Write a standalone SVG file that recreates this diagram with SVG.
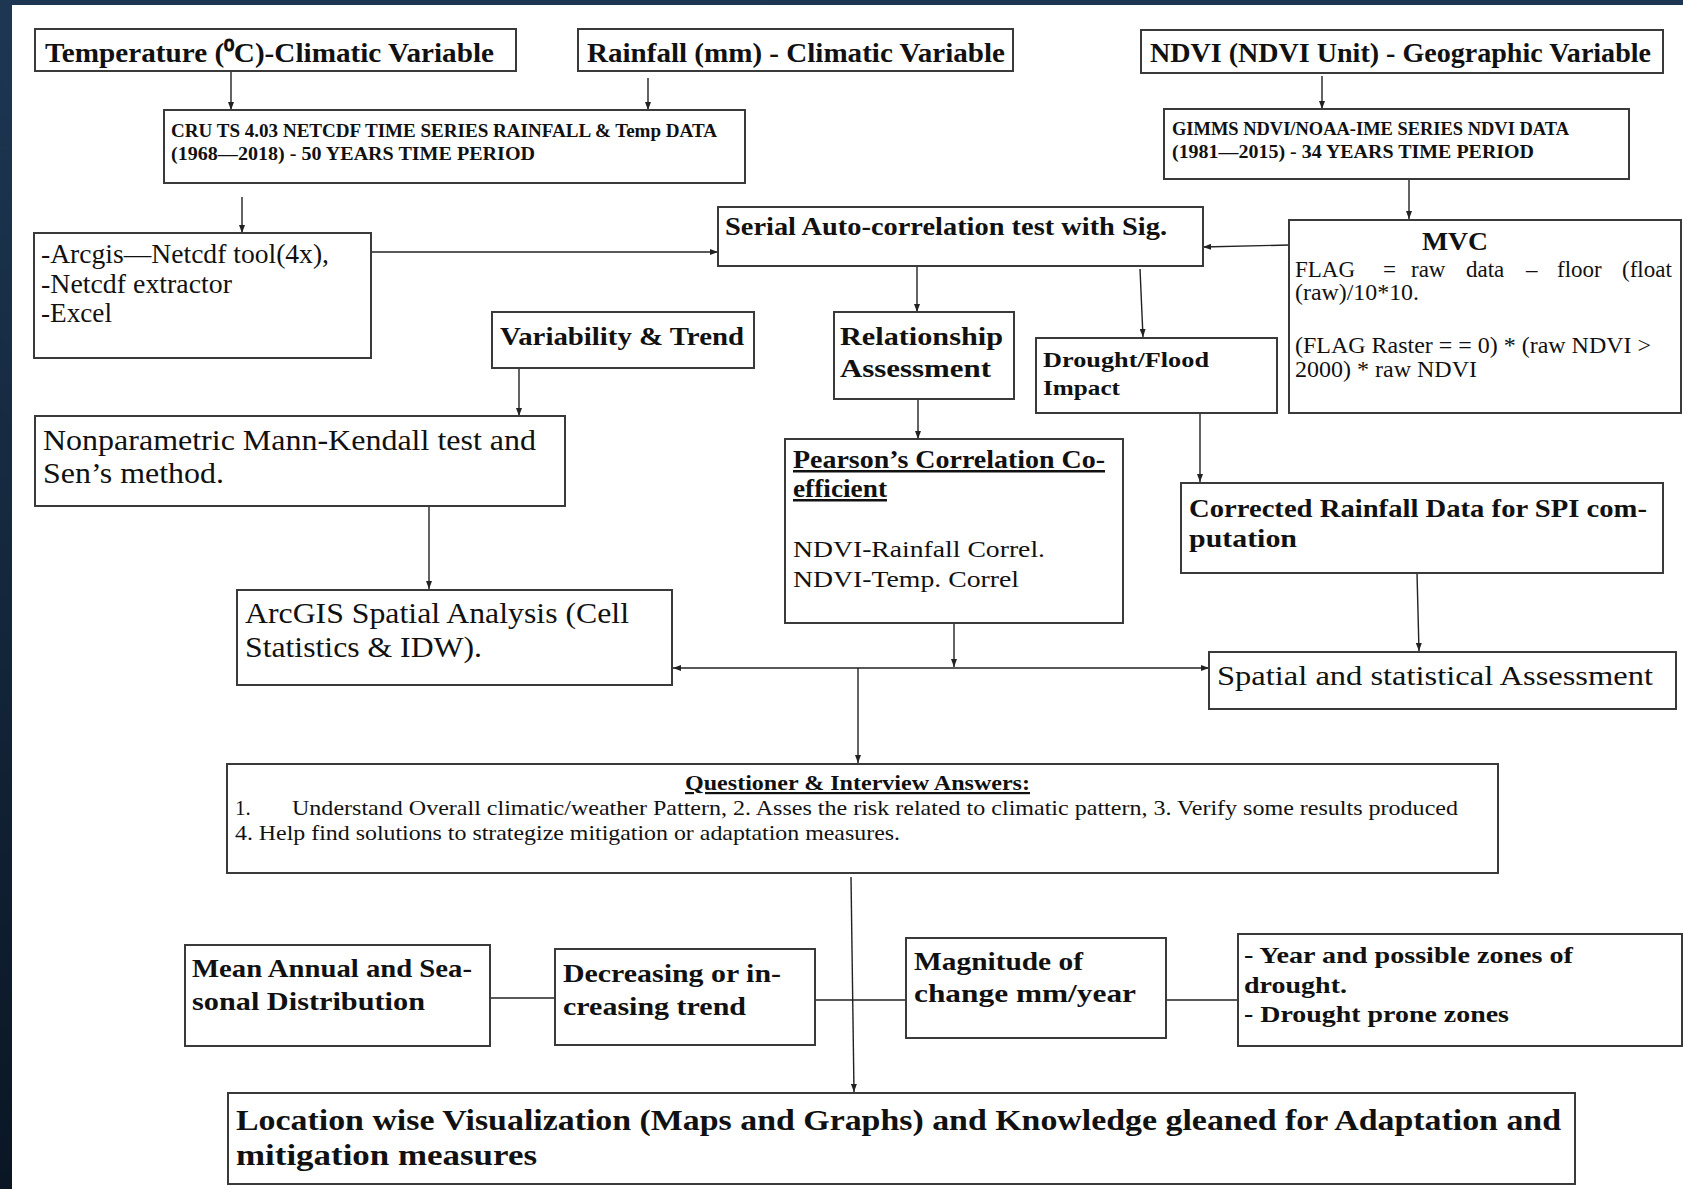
<svg xmlns="http://www.w3.org/2000/svg" width="1683" height="1189" viewBox="0 0 1683 1189">
<defs>
<linearGradient id="bg" x1="0" y1="0" x2="0" y2="1">
<stop offset="0" stop-color="#1d3753"/>
<stop offset="1" stop-color="#0a1624"/>
</linearGradient>
<marker id="ah" viewBox="0 0 8 6" refX="8" refY="3" markerWidth="8" markerHeight="6" markerUnits="userSpaceOnUse" orient="auto-start-reverse">
<path d="M0,0 L8,3 L0,6 z" fill="#222"/>
</marker>
<style>
.box{fill:#fff;stroke:#3a3a3a;stroke-width:2}
.b{font-family:"Liberation Serif","Times New Roman",serif;font-weight:bold;fill:#111}
.r{font-family:"Liberation Serif","Times New Roman",serif;fill:#111}
.c{fill:none;stroke:#222;stroke-width:1.4}
.a{marker-end:url(#ah)}
</style>
</defs>
<rect x="0" y="0" width="1683" height="1189" fill="url(#bg)"/>
<rect x="12" y="5" width="1671" height="1184" fill="#fff"/>

<g id="connectors">
<path class="c a" d="M231,71 V110"/>
<path class="c a" d="M648,78 V110"/>
<path class="c a" d="M242,197 V233"/>
<path class="c a" d="M371,252 H718"/>
<path class="c a" d="M1322,76 V109"/>
<path class="c a" d="M1409,173 V219"/>
<path class="c a" d="M1289,245 L1203,247"/>
<path class="c a" d="M917,266 V312"/>
<path class="c a" d="M1140,269 L1143,337"/>
<path class="c a" d="M519,368 V416"/>
<path class="c a" d="M918,399 V439"/>
<path class="c a" d="M1200,412 V482"/>
<path class="c a" d="M429,502 V589"/>
<path class="c a" d="M954,620 V667"/>
<path class="c a" d="M673,668 H1209" marker-start="url(#ah)"/>
<path class="c a" d="M858,668 V763"/>
<path class="c a" d="M1417,573 L1419,651"/>
<path class="c a" d="M851,877 L854,1092"/>
<path class="c" d="M490,998 H555"/>
<path class="c" d="M815,1000 H906"/>
<path class="c" d="M1161,1000 H1238"/>
</g>

<g id="temperature">
<rect class="box" x="35" y="29" width="481" height="42"/>
<text class="b" x="45" y="62" font-size="27" textLength="449" lengthAdjust="spacingAndGlyphs">Temperature (⁰C)-Climatic Variable</text>
</g>
<g id="rainfall">
<rect class="box" x="578" y="29" width="435" height="42"/>
<text class="b" x="587" y="62" font-size="27" textLength="418" lengthAdjust="spacingAndGlyphs">Rainfall (mm) - Climatic Variable</text>
</g>
<g id="ndvi">
<rect class="box" x="1141" y="30" width="522" height="43"/>
<text class="b" x="1150" y="62" font-size="27" textLength="501" lengthAdjust="spacingAndGlyphs">NDVI (NDVI Unit) - Geographic Variable</text>
</g>
<g id="cru">
<rect class="box" x="164" y="110" width="581" height="73"/>
<text class="b" x="171" y="137" font-size="18" textLength="546" lengthAdjust="spacingAndGlyphs">CRU TS 4.03 NETCDF TIME SERIES RAINFALL  &amp; Temp DATA</text>
<text class="b" x="171" y="160" font-size="18" textLength="364" lengthAdjust="spacingAndGlyphs">(1968—2018) - 50 YEARS TIME PERIOD</text>
</g>
<g id="gimms">
<rect class="box" x="1164" y="109" width="465" height="70"/>
<text class="b" x="1172" y="135" font-size="18" textLength="397" lengthAdjust="spacingAndGlyphs">GIMMS NDVI/NOAA-IME SERIES NDVI DATA</text>
<text class="b" x="1172" y="158" font-size="18" textLength="362" lengthAdjust="spacingAndGlyphs">(1981—2015) - 34 YEARS TIME PERIOD</text>
</g>
<g id="arcgis-tools">
<rect class="box" x="34" y="233" width="337" height="125"/>
<text class="r" x="41" y="263" font-size="27" textLength="288" lengthAdjust="spacingAndGlyphs">-Arcgis—Netcdf tool(4x),</text>
<text class="r" x="41" y="293" font-size="27" textLength="191" lengthAdjust="spacingAndGlyphs">-Netcdf extractor</text>
<text class="r" x="41" y="322" font-size="27" textLength="71" lengthAdjust="spacingAndGlyphs">-Excel</text>
</g>
<g id="serial">
<rect class="box" x="718" y="207" width="485" height="59"/>
<text class="b" x="725" y="235" font-size="25" textLength="442" lengthAdjust="spacingAndGlyphs">Serial Auto-correlation test with  Sig.</text>
</g>
<g id="mvc">
<rect class="box" x="1289" y="220" width="392" height="193"/>
<text class="b" x="1422" y="250" font-size="26" textLength="66" lengthAdjust="spacingAndGlyphs">MVC</text>
<text class="r" y="277" font-size="23"><tspan x="1295">FLAG</tspan><tspan x="1383">=</tspan><tspan x="1411">raw</tspan><tspan x="1466">data</tspan><tspan x="1526">–</tspan><tspan x="1557">floor</tspan><tspan x="1622">(float</tspan></text>
<text class="r" x="1295" y="300" font-size="23" textLength="124" lengthAdjust="spacingAndGlyphs">(raw)/10*10.</text>
<text class="r" x="1295" y="353" font-size="23" textLength="356" lengthAdjust="spacingAndGlyphs">(FLAG Raster = = 0) * (raw NDVI &gt;</text>
<text class="r" x="1295" y="377" font-size="23" textLength="182" lengthAdjust="spacingAndGlyphs">2000) * raw NDVI</text>
</g>
<g id="variability">
<rect class="box" x="492" y="312" width="262" height="56"/>
<text class="b" x="500" y="345" font-size="25" textLength="244" lengthAdjust="spacingAndGlyphs">Variability &amp; Trend</text>
</g>
<g id="relationship">
<rect class="box" x="834" y="312" width="180" height="87"/>
<text class="b" x="840" y="345" font-size="25" textLength="163" lengthAdjust="spacingAndGlyphs">Relationship</text>
<text class="b" x="840" y="377" font-size="25" textLength="151" lengthAdjust="spacingAndGlyphs">Assessment</text>
</g>
<g id="drought-flood">
<rect class="box" x="1036" y="338" width="241" height="75"/>
<text class="b" x="1043" y="367" font-size="22" textLength="166" lengthAdjust="spacingAndGlyphs">Drought/Flood</text>
<text class="b" x="1043" y="395" font-size="22" textLength="77" lengthAdjust="spacingAndGlyphs">Impact</text>
</g>
<g id="mann-kendall">
<rect class="box" x="35" y="416" width="530" height="90"/>
<text class="r" x="43" y="450" font-size="30" textLength="493" lengthAdjust="spacingAndGlyphs">Nonparametric Mann-Kendall test and</text>
<text class="r" x="43" y="483" font-size="30" textLength="181" lengthAdjust="spacingAndGlyphs">Sen’s method.</text>
</g>
<g id="arcgis-spatial">
<rect class="box" x="237" y="590" width="435" height="95"/>
<text class="r" x="245" y="623" font-size="29" textLength="384" lengthAdjust="spacingAndGlyphs">ArcGIS Spatial Analysis (Cell</text>
<text class="r" x="245" y="657" font-size="29" textLength="237" lengthAdjust="spacingAndGlyphs">Statistics &amp; IDW).</text>
</g>
<g id="pearson">
<rect class="box" x="785" y="439" width="338" height="184"/>
<text class="b" x="793" y="468" font-size="25" text-decoration="underline" textLength="312" lengthAdjust="spacingAndGlyphs">Pearson’s Correlation Co-</text>
<text class="b" x="793" y="497" font-size="25" text-decoration="underline" textLength="94" lengthAdjust="spacingAndGlyphs">efficient</text>
<text class="r" x="793" y="557" font-size="24" textLength="252" lengthAdjust="spacingAndGlyphs">NDVI-Rainfall Correl.</text>
<text class="r" x="793" y="587" font-size="24" textLength="226" lengthAdjust="spacingAndGlyphs">NDVI-Temp. Correl</text>
</g>
<g id="corrected-rainfall">
<rect class="box" x="1181" y="483" width="482" height="90"/>
<text class="b" x="1189" y="517" font-size="25" textLength="458" lengthAdjust="spacingAndGlyphs">Corrected Rainfall Data for SPI com-</text>
<text class="b" x="1189" y="547" font-size="25" textLength="108" lengthAdjust="spacingAndGlyphs">putation</text>
</g>
<g id="spatial-statistical">
<rect class="box" x="1209" y="652" width="467" height="57"/>
<text class="r" x="1217" y="685" font-size="28" textLength="436" lengthAdjust="spacingAndGlyphs">Spatial  and statistical Assessment</text>
</g>
<g id="questioner">
<rect class="box" x="227" y="764" width="1271" height="109"/>
<text class="b" x="685" y="790" font-size="22" text-decoration="underline" textLength="345" lengthAdjust="spacingAndGlyphs">Questioner &amp; Interview Answers:</text>
<text class="r" x="235" y="815" font-size="21">1.</text>
<text class="r" x="292" y="815" font-size="21" textLength="1166" lengthAdjust="spacingAndGlyphs">Understand Overall climatic/weather Pattern, 2. Asses the risk related to climatic pattern, 3. Verify some results produced</text>
<text class="r" x="235" y="840" font-size="21" textLength="665" lengthAdjust="spacingAndGlyphs">4. Help find solutions to strategize mitigation or adaptation measures.</text>
</g>
<g id="mean-annual">
<rect class="box" x="185" y="945" width="305" height="101"/>
<text class="b" x="192" y="977" font-size="25" textLength="280" lengthAdjust="spacingAndGlyphs">Mean Annual and Sea-</text>
<text class="b" x="192" y="1010" font-size="25" textLength="233" lengthAdjust="spacingAndGlyphs">sonal Distribution</text>
</g>
<g id="trend">
<rect class="box" x="555" y="949" width="260" height="96"/>
<text class="b" x="563" y="982" font-size="25" textLength="218" lengthAdjust="spacingAndGlyphs">Decreasing or in-</text>
<text class="b" x="563" y="1015" font-size="25" textLength="183" lengthAdjust="spacingAndGlyphs">creasing trend</text>
</g>
<g id="magnitude">
<rect class="box" x="906" y="938" width="260" height="100"/>
<text class="b" x="914" y="970" font-size="25" textLength="169" lengthAdjust="spacingAndGlyphs">Magnitude of</text>
<text class="b" x="914" y="1002" font-size="25" textLength="222" lengthAdjust="spacingAndGlyphs">change  mm/year</text>
</g>
<g id="drought-zones">
<rect class="box" x="1238" y="934" width="444" height="112"/>
<text class="b" x="1244" y="963" font-size="23" textLength="329" lengthAdjust="spacingAndGlyphs">- Year and possible zones of</text>
<text class="b" x="1244" y="993" font-size="23" textLength="103" lengthAdjust="spacingAndGlyphs">drought.</text>
<text class="b" x="1244" y="1022" font-size="23" textLength="265" lengthAdjust="spacingAndGlyphs">- Drought prone zones</text>
</g>
<g id="visualization">
<rect class="box" x="228" y="1093" width="1347" height="91"/>
<text class="b" x="236" y="1130" font-size="30" textLength="1325" lengthAdjust="spacingAndGlyphs">Location wise Visualization (Maps and Graphs) and Knowledge gleaned for Adaptation and</text>
<text class="b" x="236" y="1165" font-size="30" textLength="301" lengthAdjust="spacingAndGlyphs">mitigation measures</text>
</g>
</svg>
